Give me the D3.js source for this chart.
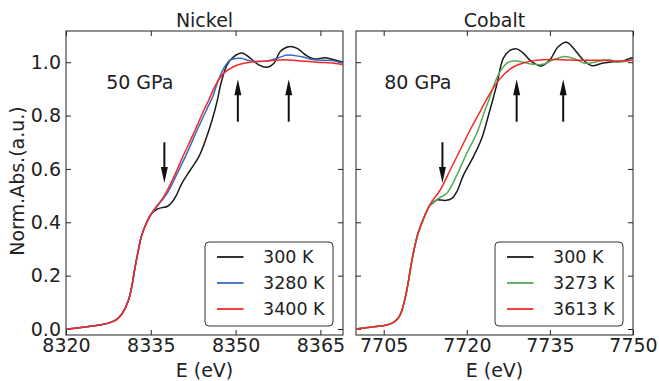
<!DOCTYPE html>
<html lang="en">
  <head>
    <meta charset="UTF-8" />
    <title>XANES - Nickel and Cobalt</title>
    <script src="https://d3js.org/d3.v7.min.js"></script>
    <style>
      body { margin: 0; background: #fff; }
      svg { font-family: "DejaVu Sans", sans-serif; }
    </style>
  </head>
  <body>
    <svg id="chart" width="659" height="381"></svg>

    <script>
      // --- data ---
      const yTicks = [0.0, 0.2, 0.4, 0.6, 0.8, 1.0];

      const niTicks = [8320, 8335, 8350, 8365];
      const niLabels = ["300 K", "3280 K", "3400 K"];
      const niBase = [[8320,0.000],[8322,0.004],[8324,0.009],[8326,0.015],[8327.5,0.022],[8329,0.036],[8330,0.060],[8331,0.105],[8331.6,0.155],[8332.2,0.230],[8332.8,0.295],[8333.3,0.345],[8334.2,0.396],[8335.1,0.432]];
      const ni300 = niBase.concat([[8336.0,0.448],[8337.0,0.455],[8337.9,0.459],[8338.7,0.474],[8339.4,0.496],[8340.5,0.546],[8342.0,0.596],[8343.5,0.646],[8344.7,0.709],[8345.9,0.787],[8346.8,0.86],[8347.4,0.92],[8348.5,0.99],[8349.7,1.021],[8351.2,1.034],[8352.6,1.015],[8354.1,0.99],[8355.6,0.981],[8356.8,0.996],[8357.9,1.04],[8359.4,1.058],[8360.9,1.052],[8362.4,1.027],[8363.9,1.012],[8365.9,1.017],[8367.4,1.009],[8369,1.0]]);
      const ni3280 = niBase.concat([[8336.1,0.459],[8337.9,0.509],[8339.7,0.584],[8341.4,0.659],[8343.2,0.746],[8345.0,0.828],[8345.9,0.868],[8346.9,0.93],[8347.9,0.977],[8349.1,1.009],[8350.9,1.015],[8352.6,1.005],[8355.6,1.005],[8357.4,1.015],[8359.2,1.027],[8361.5,1.021],[8363.9,1.009],[8367.4,1.005],[8369,0.996]]);
      const ni3400 = niBase.concat([[8336.1,0.462],[8337.3,0.496],[8339.1,0.571],[8340.8,0.652],[8342.6,0.734],[8344.4,0.821],[8345.3,0.86],[8346.4,0.912],[8347.9,0.959],[8349.7,0.984],[8351.5,0.996],[8353.3,1.002],[8355.6,1.005],[8358.5,1.009],[8361.5,1.005],[8364.4,1.0],[8367.4,0.996],[8369,0.99]]);
      const niArrows = [[8337.4, 0.70, 0.547], [8350.4, 0.777, 0.936], [8359.4, 0.777, 0.936]];

      const coTicks = [7705, 7720, 7735, 7750];
      const coLabels = ["300 K", "3273 K", "3613 K"];
      const coBase = [[7700,0.0],[7701.8,0.005],[7703.6,0.009],[7705.5,0.015],[7706.7,0.024],[7707.6,0.04],[7708.2,0.065],[7708.8,0.109],[7709.4,0.171],[7710.0,0.246],[7710.6,0.309],[7711.2,0.359],[7712.1,0.409]];
      const co300 = coBase.concat([[7713.3,0.462],[7714.2,0.478],[7714.6,0.484],[7716.1,0.482],[7717.3,0.49],[7718.2,0.515],[7719.4,0.577],[7721.2,0.646],[7722.7,0.715],[7723.9,0.8],[7724.7,0.86],[7725.4,0.915],[7726.6,1.015],[7727.8,1.044],[7729.0,1.05],[7730.2,1.034],[7731.7,1.002],[7733.5,0.986],[7735.0,1.009],[7736.5,1.058],[7738.0,1.075],[7739.5,1.046],[7741.0,1.009],[7742.6,0.987],[7744.4,0.996],[7746.4,1.002],[7748.3,1.005],[7749.5,1.015],[7750,1.017]]);
      const co3273 = coBase.concat([[7713.4,0.465],[7714.9,0.49],[7716.4,0.509],[7718.2,0.577],[7720.0,0.659],[7721.8,0.734],[7723.3,0.821],[7724.0,0.859],[7725.0,0.92],[7726.0,0.965],[7727.2,0.996],[7728.4,1.005],[7730.2,1.0],[7732.0,0.992],[7733.8,0.992],[7735.6,1.009],[7737.7,1.021],[7739.5,1.012],[7741.3,0.996],[7743.5,1.002],[7745.8,1.009],[7747.1,1.0],[7750,1.009]]);
      const co3613 = coBase.concat([[7713.4,0.468],[7715.2,0.521],[7717.0,0.596],[7718.8,0.671],[7720.6,0.746],[7722.4,0.815],[7723.3,0.85],[7724.8,0.905],[7726.6,0.952],[7728.4,0.982],[7730.2,0.997],[7732.6,1.007],[7735.6,1.01],[7738.6,1.008],[7741.6,1.007],[7744.7,1.007],[7747.6,1.004],[7750,1.007]]);
      const coArrows = [[7715.6, 0.70, 0.547], [7729.0, 0.777, 0.936], [7737.4, 0.777, 0.936]];

      const svg = d3.select("#chart");
      const plotTop = 31, plotBottom = 335;
      const yScale = d3.scaleLinear().domain([-0.0225, 1.117]).range([plotBottom, plotTop]);

      const panels = [
        { title: "Nickel", note: "50 GPa", left: 66, right: 343, domain: [8320, 8369], ticks: niTicks,
          series: [ni300, ni3280, ni3400], labels: niLabels, colors: ["#1a1a1a", "#3a6bbf", "#f22a2a"],
          arrows: niArrows, noteAt: [8327.1, 0.9], yLabels: true },
        { title: "Cobalt", note: "80 GPa", left: 356, right: 633, domain: [7700, 7750], ticks: coTicks,
          series: [co300, co3273, co3613], labels: coLabels, colors: ["#1a1a1a", "#55aa55", "#f22a2a"],
          arrows: coArrows, noteAt: [7705.1, 0.9], yLabels: false }
      ];

      panels.forEach((p) => {
        const x = d3.scaleLinear().domain(p.domain).range([p.left, p.right]);
        const g = svg.append("g");

        // axes with inward ticks
        const fmt = d3.format(".1f");
        g.append("g").attr("transform", `translate(0,${plotBottom})`)
          .call(d3.axisBottom(x).tickValues(p.ticks).tickSize(-5).tickPadding(3).tickFormat(d3.format("d")));
        g.append("g").attr("transform", `translate(0,${plotTop})`)
          .call(d3.axisTop(x).tickValues(p.ticks).tickSize(-5).tickFormat(""));
        g.append("g").attr("transform", `translate(${p.left},0)`)
          .call(d3.axisLeft(yScale).tickValues(yTicks).tickSize(-5).tickPadding(5)
            .tickFormat(p.yLabels ? fmt : ""));
        g.append("g").attr("transform", `translate(${p.right},0)`)
          .call(d3.axisRight(yScale).tickValues(yTicks).tickSize(-5).tickFormat(""));
        g.selectAll(".domain").remove();
        g.selectAll(".tick line").attr("stroke", "#222");
        g.selectAll(".tick text").attr("font-size", 19).attr("fill", "#222")
          .attr("font-family", "DejaVu Sans");

        g.append("rect")
          .attr("x", p.left).attr("y", plotTop)
          .attr("width", p.right - p.left).attr("height", plotBottom - plotTop)
          .attr("fill", "none").attr("stroke", "#222").attr("stroke-width", 1);

        // curves
        const line = d3.line()
          .x((d) => x(d[0]))
          .y((d) => yScale(d[1]))
          .curve(d3.curveCatmullRom.alpha(0.5));
        p.series.forEach((s, i) => {
          g.append("path").datum(s)
            .attr("fill", "none")
            .attr("stroke", p.colors[i])
            .attr("stroke-width", 1.5)
            .attr("d", line);
        });

        // arrows: [E, tail, tip]
        p.arrows.forEach((a) => {
          const ax = x(a[0]), y0 = yScale(a[1]), y1 = yScale(a[2]);
          const dir = y1 < y0 ? 1 : -1;
          const headLen = 16, half = 3.5;
          g.append("line")
            .attr("x1", ax).attr("x2", ax)
            .attr("y1", y0).attr("y2", y1 + dir * (headLen - 2))
            .attr("stroke", "#111").attr("stroke-width", 2);
          g.append("path")
            .attr("d", `M${ax},${y1} L${ax - half},${y1 + dir * headLen} L${ax + half},${y1 + dir * headLen} Z`)
            .attr("fill", "#111");
        });

        g.append("text")
          .attr("x", x(p.noteAt[0])).attr("y", yScale(p.noteAt[1]))
          .attr("font-size", 19).attr("fill", "#222")
          .text(p.note);

        g.append("text")
          .attr("x", (p.left + p.right) / 2).attr("y", 26.5)
          .attr("text-anchor", "middle").attr("font-size", 19).attr("fill", "#222")
          .text(p.title);

        g.append("text")
          .attr("x", (p.left + p.right) / 2).attr("y", 376.5)
          .attr("text-anchor", "middle").attr("font-size", 19).attr("fill", "#222")
          .text("E (eV)");

        // legend
        const lx = p.right - 138, ly = 242;
        const legend = g.append("g").attr("transform", `translate(${lx},${ly})`);
        legend.append("rect")
          .attr("x", 0).attr("y", 0).attr("width", 128).attr("height", 84)
          .attr("rx", 4).attr("fill", "#fff").attr("stroke", "#333").attr("stroke-width", 1);
        p.labels.forEach((lab, i) => {
          const ry = 15 + i * 26;
          legend.append("line")
            .attr("x1", 12).attr("x2", 38.5).attr("y1", ry).attr("y2", ry)
            .attr("stroke", p.colors[i]).attr("stroke-width", 1.8);
          legend.append("text")
            .attr("x", 58).attr("y", ry).attr("dy", "0.36em")
            .attr("font-size", 17.5).attr("fill", "#222")
            .text(lab);
        });
      });

      svg.append("text")
        .attr("transform", `translate(24,${(plotTop + plotBottom) / 2 - 2}) rotate(-90)`)
        .attr("text-anchor", "middle").attr("font-size", 19).attr("fill", "#222")
        .text("Norm.Abs.(a.u.)");
    </script>
  </body>
</html>
